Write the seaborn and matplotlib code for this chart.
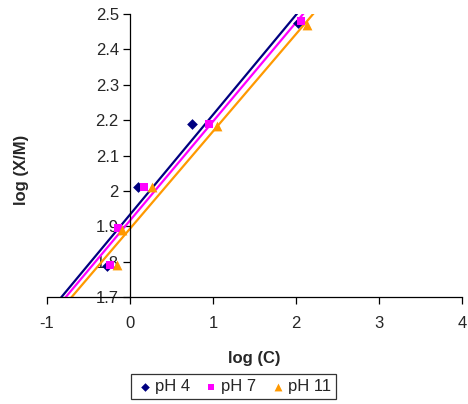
import numpy as np
import pandas as pd
import matplotlib
matplotlib.use("Agg")
import matplotlib.pyplot as plt
import seaborn as sns

sns.set_style("white")
plt.rcParams['font.family'] = ['Liberation Sans', 'DejaVu Sans']

# Data
ph4_x = [-0.28, 0.10, 0.75, 2.02]
ph4_y = [1.788, 2.01, 2.19, 2.475]
ph7_x = [-0.24, -0.14, 0.17, 0.95, 2.06]
ph7_y = [1.79, 1.895, 2.01, 2.19, 2.48]
ph11_x = [-0.16, -0.10, 0.27, 1.05, 2.13]
ph11_y = [1.79, 1.89, 2.01, 2.183, 2.47]

labels = ["pH 4", "pH 7", "pH 11"]
colors = ["#000080", "#FF00FF", "#FF9900"]
markers = ["D", "s", "^"]
msizes = [30, 36, 50]

xticks = [-1, 0, 1, 2, 3, 4]
yticks = [1.7, 1.8, 1.9, 2.0, 2.1, 2.2, 2.3, 2.4, 2.5]
ytick_labels = ["1.7", "1.8", "1.9", "2", "2.1", "2.2", "2.3", "2.4", "2.5"]

fig = plt.figure(figsize=(4.68, 4.04), dpi=100)
ax = fig.add_axes([0.1004, 0.265, 0.8866, 0.70])
ax.set_xlim(-1, 4)
ax.set_ylim(1.7, 2.5)

series = [(ph4_x, ph4_y), (ph7_x, ph7_y), (ph11_x, ph11_y)]
for (xs, ys), lab, c, m, s in zip(series, labels, colors, markers, msizes):
    df = pd.DataFrame({"x": xs, "y": ys})
    sns.regplot(data=df, x="x", y="y", ax=ax, ci=None, truncate=False,
                scatter=False, line_kws=dict(color=c, lw=1.6, zorder=2))
    sns.scatterplot(data=df, x="x", y="y", ax=ax, color=c, marker=m, s=s,
                    edgecolor=c, linewidth=0, label=lab, zorder=3)

ax.set_xlim(-1, 4)
ax.set_ylim(1.7, 2.5)

ax.spines['top'].set_visible(False)
ax.spines['right'].set_visible(False)
ax.spines['left'].set_position(('data', 0))
for sp in ['left', 'bottom']:
    ax.spines[sp].set_color('black')
    ax.spines[sp].set_linewidth(0.9)

ax.set_xticks(xticks)
ax.set_xticklabels([str(t) for t in xticks])
ax.set_yticks(yticks)
ax.set_yticklabels(ytick_labels)
ax.tick_params(axis='both', direction='out', length=5, width=0.9, color='black',
               labelsize=12, left=True, bottom=True)
ax.tick_params(axis='x', pad=9)
ax.tick_params(axis='y', pad=3)
for t in ax.get_yticklabels():
    t.set_zorder(5)

ax.set_xlabel("log (C)", fontsize=12, fontweight='bold', labelpad=14)
ax.set_ylabel("")
fig.text(0.045, 0.58, "log (X/M)", rotation=90, fontsize=12, fontweight='bold',
         ha='center', va='center')

leg = ax.legend(loc='center', bbox_to_anchor=(0.45, -0.318), ncol=3, frameon=True,
                fancybox=False, fontsize=12, handletextpad=0.1, columnspacing=0.8,
                borderpad=0.3, handlelength=1.0, markerscale=0.8)
leg.get_frame().set_edgecolor('black')
leg.get_frame().set_linewidth(0.9)

fig.savefig("out.png", dpi=100)
